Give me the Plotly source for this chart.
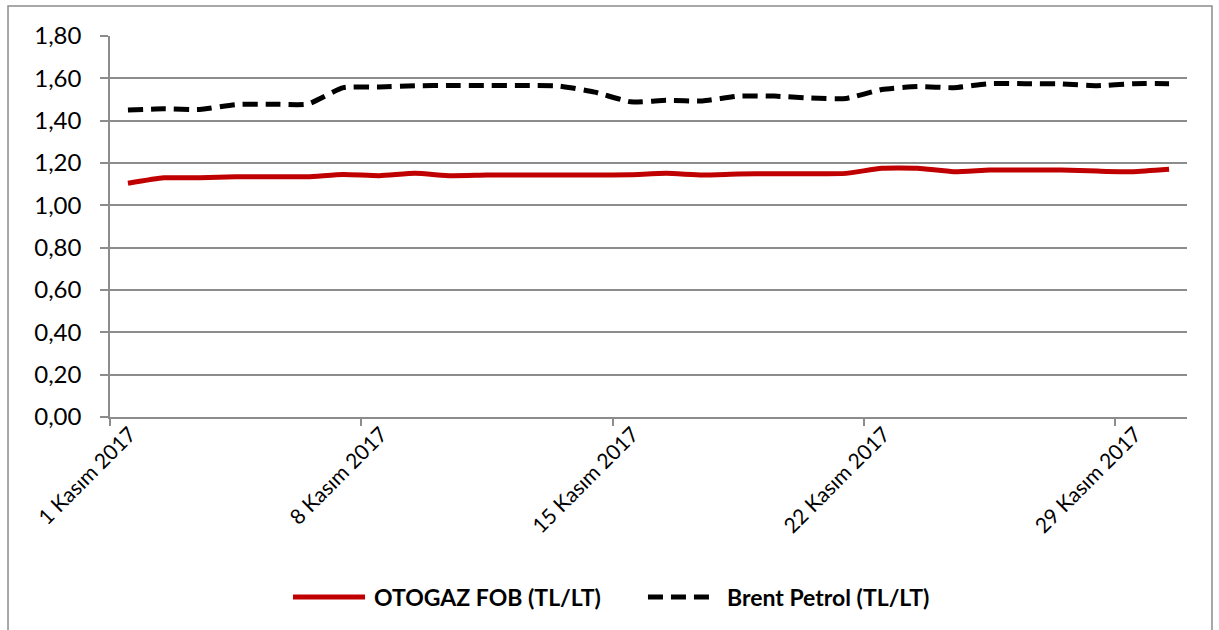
import plotly.graph_objects as go

days = list(range(1, 31))
otogaz = [1.104, 1.130, 1.130, 1.135, 1.135, 1.135, 1.146, 1.140, 1.151, 1.140,
          1.143, 1.143, 1.143, 1.143, 1.145, 1.151, 1.143, 1.148, 1.149, 1.149,
          1.151, 1.175, 1.175, 1.159, 1.167, 1.167, 1.167, 1.162, 1.159, 1.170]
brent = [1.450, 1.456, 1.453, 1.476, 1.478, 1.478, 1.556, 1.559, 1.565, 1.566,
         1.566, 1.566, 1.564, 1.535, 1.489, 1.496, 1.493, 1.516, 1.516, 1.507,
         1.505, 1.547, 1.561, 1.556, 1.575, 1.575, 1.574, 1.565, 1.575, 1.575]
tick_days = [1, 8, 15, 22, 29]
tick_labels = [f"{d} Kasım 2017" for d in tick_days]
y_ticks = [0.0, 0.2, 0.4, 0.6, 0.8, 1.0, 1.2, 1.4, 1.6, 1.8]
y_labels = [f"{v:.2f}".replace(".", ",") for v in y_ticks]
series_names = ["OTOGAZ FOB (TL/LT)", "Brent Petrol (TL/LT)"]

x = [d - 1 for d in days]
tick_pos = [d - 1.5 for d in tick_days]

FONT = "Lato"
GRAY = "#8c8c8c"
RED = "#C00000"
DASH = "15px,8px"

fig = go.Figure()
fig.add_trace(go.Scatter(x=x, y=otogaz, mode="lines", name=series_names[0], showlegend=False,
                         line=dict(color=RED, width=5, shape="spline", smoothing=0.5)))
fig.add_trace(go.Scatter(x=x, y=brent, mode="lines", name=series_names[1], showlegend=False,
                         line=dict(color="#000000", width=5, dash=DASH, shape="spline", smoothing=0.5)))

# custom legend (paper coords)
leg_y = -0.4724
shapes = [
    dict(type="rect", xref="paper", yref="paper", x0=-0.0947, x1=1.0232, y0=-0.65, y1=1.0787,
         line=dict(color=GRAY, width=1.5), fillcolor="rgba(0,0,0,0)", layer="below"),
    dict(type="line", xref="paper", yref="paper", x0=0.1699, x1=0.2368, y0=leg_y, y1=leg_y,
         line=dict(color=RED, width=5)),
    dict(type="line", xref="paper", yref="paper", x0=0.4995, x1=0.558, y0=leg_y, y1=leg_y,
         line=dict(color="#000000", width=5, dash=DASH)),
]
annotations = [
    dict(xref="paper", yref="paper", x=0.2433, y=leg_y, xanchor="left", yanchor="middle",
         text=f"<b>{series_names[0]}</b>", showarrow=False,
         font=dict(family=FONT, size=23, color="black")),
    dict(xref="paper", yref="paper", x=0.571, y=leg_y, xanchor="left", yanchor="middle",
         text=f"<b>{series_names[1]}</b>", showarrow=False,
         font=dict(family=FONT, size=23, color="black")),
]

fig.update_layout(
    width=1219, height=630,
    margin=dict(l=110, r=32, t=36, b=213, autoexpand=False),
    paper_bgcolor="white", plot_bgcolor="white",
    font=dict(family=FONT, color="black"),
    showlegend=False,
    xaxis=dict(range=[-0.5, 29.5], tickmode="array", tickvals=tick_pos, ticktext=tick_labels,
               tickangle=-45, ticks="outside", ticklen=7, tickcolor=GRAY, tickwidth=1.5,
               showline=True, linecolor=GRAY, linewidth=1.5, showgrid=False,
               ticklabelshift=20, ticklabelstandoff=-12,
               zeroline=False, tickfont=dict(family=FONT, size=21), automargin=False),
    yaxis=dict(range=[0, 1.8], tickmode="array", tickvals=y_ticks, ticktext=y_labels,
               ticks="outside", ticklen=8, tickcolor=GRAY, tickwidth=1.5,
               showline=True, linecolor=GRAY, linewidth=1.5, ticklabelstandoff=14,
               showgrid=True, gridcolor=GRAY, gridwidth=1.5, zeroline=False,
               tickfont=dict(family=FONT, size=24), automargin=False),
    shapes=shapes,
    annotations=annotations,
)

fig.write_html("out.html", config={"displayModeBar": False},
               post_script="document.body.style.margin='0px';")
